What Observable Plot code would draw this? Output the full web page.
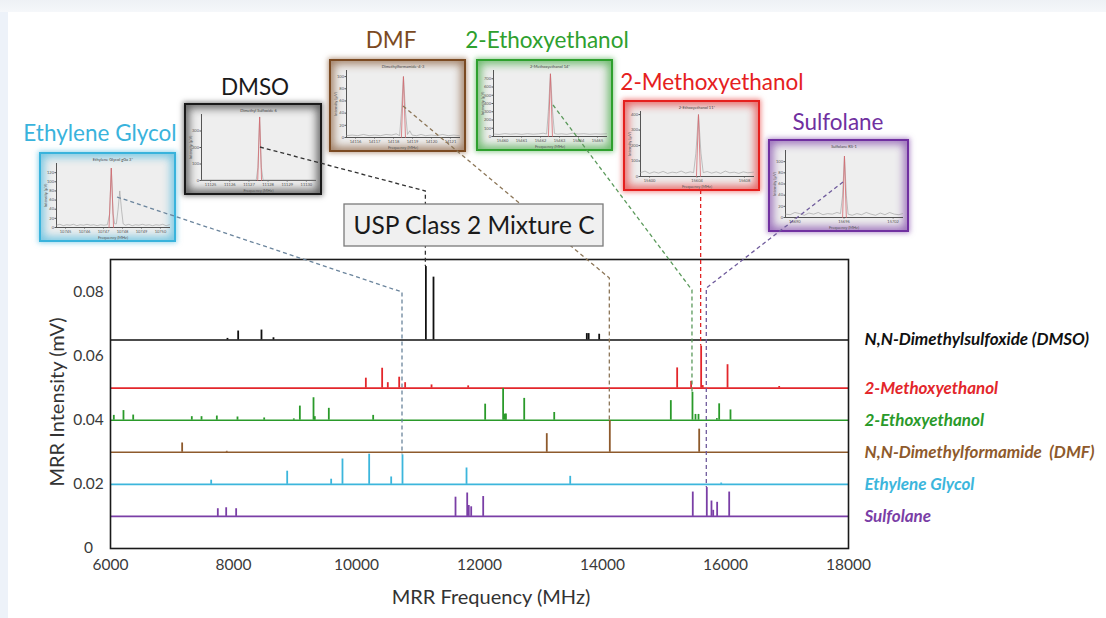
<!DOCTYPE html>
<html><head><meta charset="utf-8">
<script src="https://cdn.jsdelivr.net/npm/d3@7"></script>
<script src="https://cdn.jsdelivr.net/npm/@observablehq/plot@0.6"></script>
<style>
body{margin:0;background:#fff;font-family:Lato,"Open Sans",sans-serif;}
#wrap{position:relative;width:1106px;height:618px;overflow:hidden;background:#fff;}
#topband{position:absolute;left:0;top:0;width:1106px;height:12px;background:linear-gradient(#eef1f5,#f5f7fa);}
#leftband{position:absolute;left:0;top:12px;width:8px;height:606px;background:#edf2f9;}
#main{position:absolute;left:0;top:0;}
.inset{position:absolute;box-sizing:border-box;background:#eeeeee;}
.inset svg{display:block;}
#overlay{position:absolute;left:0;top:0;pointer-events:none;}
</style></head><body><div id="wrap"><div id="topband"></div><div id="leftband"></div><div id="main"></div></div>
<script>
// ---------- main spectrum data ----------
const seriesNames = ["N,N-Dimethylsulfoxide (DMSO)", "2-Methoxyethanol", "2-Ethoxyethanol", "N,N-Dimethylformamide  (DMF)", "Ethylene Glycol", "Sulfolane"];
const seriesBaselines = [0.065, 0.05, 0.04, 0.03, 0.02, 0.01];
const seriesColors = ["#111111", "#e3262b", "#2a9a2a", "#8e5a2c", "#3cb6dc", "#7a3ea6"];

const dmsoFreq = [7902, 8076, 8455, 8650, 11128, 11252, 13745, 13775, 13946];
const dmsoAmp  = [0.0005, 0.0028, 0.0031, 0.0007, 0.0229, 0.0196, 0.002, 0.002, 0.0018];

const methoxyFreq = [10152, 10417, 10509, 10694, 10791, 11220, 11816, 15214, 15441, 15604, 15630, 16033, 16873];
const methoxyAmp  = [0.0031, 0.0062, 0.0017, 0.0034, 0.0017, 0.001, 0.0007, 0.0063, 0.0021, 0.0131, 0.0008, 0.0073, 0.0005];

const ethoxyFreq = [6054, 6211, 6369, 7322, 7480, 7729, 8065, 8499, 8981, 9079, 9301, 9322, 9550, 10271, 12092, 12384, 12410, 12430, 12727, 13215, 15111, 15463, 15512, 15561, 15860, 15897, 16081];
const ethoxyAmp  = [0.0015, 0.003, 0.0016, 0.0011, 0.0011, 0.0013, 0.001, 0.0007, 0.0004, 0.0044, 0.007, 0.0011, 0.0037, 0.0015, 0.005, 0.0099, 0.0019, 0.0019, 0.0068, 0.0024, 0.0061, 0.0087, 0.0018, 0.0018, 0.0005, 0.0051, 0.0032];

const dmfFreq = [7165, 7890, 13094, 14119, 15572];
const dmfAmp  = [0.0029, 0.0003, 0.0058, 0.0099, 0.0072];

const egFreq = [7637, 8873, 9588, 9772, 10206, 10564, 10748, 11789, 13475, 15930];
const egAmp  = [0.0013, 0.0041, 0.0016, 0.0079, 0.0094, 0.0023, 0.0092, 0.0051, 0.0025, 0.0004];

const sulfFreq = [7745, 7881, 8043, 11610, 11800, 11826, 11865, 12060, 15468, 15696, 15772, 15800, 15864, 16060];
const sulfAmp  = [0.0024, 0.0027, 0.0024, 0.006, 0.0073, 0.0034, 0.003, 0.0062, 0.0076, 0.009, 0.0048, 0.0019, 0.0044, 0.0076];

const xTicks = [6000, 8000, 10000, 12000, 14000, 16000, 18000];
const yTicks = [0, 0.02, 0.04, 0.06, 0.08];

// ---------- inset (zoomed single-line) data ----------
const insetNames  = ["Ethylene Glycol", "DMSO", "DMF", "2-Ethoxyethanol", "2-Methoxyethanol", "Sulfolane"];
const insetTitles = ["Ethylene Glycol gGa 3*", "Dimethyl Sulfoxide 6", "Dimethylformamide-4-3", "2-Methoxyethanol 14*", "2-Ethoxyethanol 11*", "Sulfolane RS-1"];
const insetColors = ["#39b3dc", "#1a1a1a", "#7b4a22", "#2ea02e", "#e5201e", "#7030a0"];
const insetSeries = [4, 0, 3, 2, 1, 5];           // which main series each inset zooms on
const insetPeakFreq = [10748, 11128, 14119, 15463, 15604, 15696];

const egTrace = [[0,5],[3,7],[6,4],[9,6],[12,5],[15,7],[18,4],[21,6],[24,5],[27,7],[30,5],[33,6],[36,4],[39,6],[42,5],[45,6],[47,30],[48.5,130],[50,30],[51.5,8],[53,8],[54.5,40],[56,80],[57.5,40],[59,8],[61,5],[64,7],[67,4],[70,6],[73,5],[76,7],[79,5],[82,6],[85,4],[88,6],[91,5],[94,7],[97,4],[100,6]];
const egFit = [[46.5,0],[48.5,130],[50.5,0]];
const dmsoTrace = [[0,3],[20,3],[40,3],[48,3],[49.5,80],[51,385],[52.5,80],[54,3],[70,3],[100,3]];
const dmsoFit = [[49.3,0],[51,385],[52.7,0]];
const dmfTrace = [[0,3],[5,4],[10,3],[15,5],[20,3],[25,4],[30,3],[35,5],[40,4],[44,6],[47,3],[48.5,40],[50.4,100],[52.3,40],[54,5],[56,11],[58,4],[62,3],[66,5],[70,3],[75,4],[80,3],[85,5],[90,3],[95,4],[100,3]];
const dmfFit = [[48.6,0],[50.4,100],[52.2,0]];
const ethoxyTrace = [[0,30],[5,25],[10,35],[15,28],[20,33],[25,26],[30,34],[35,28],[40,32],[44,40],[47,30],[48.5,300],[50.4,760],[52.3,300],[54,35],[57,28],[60,33],[65,26],[70,40],[75,30],[80,34],[85,27],[90,32],[95,29],[100,33]];
const ethoxyFit = [[48.6,0],[50.4,760],[52.2,0]];
const methoxyTrace = [[0,25],[4,35],[8,20],[12,30],[16,22],[20,33],[24,20],[28,28],[32,24],[36,35],[40,22],[44,30],[47,25],[49,150],[51.3,400],[53.5,150],[55.5,25],[59,32],[63,22],[67,30],[71,20],[75,35],[79,24],[83,28],[87,20],[91,30],[95,24],[100,28]];
const methoxyFit = [[49.5,0],[51.3,400],[53.1,0]];
const sulfTrace = [[0,6],[4,5],[8,9],[12,7],[16,4],[20,8],[24,6],[28,9],[32,5],[36,7],[40,6],[44,9],[47,7],[48.8,40],[50.4,110],[52,40],[53.5,6],[57,4],[61,7],[65,5],[69,9],[73,6],[77,4],[81,8],[85,5],[89,9],[93,6],[97,5],[100,7]];
const sulfFit = [[48.8,0],[50.4,110],[52,0]];

// ---------- build rows ----------
const freqs = [dmsoFreq, methoxyFreq, ethoxyFreq, dmfFreq, egFreq, sulfFreq];
const amps  = [dmsoAmp, methoxyAmp, ethoxyAmp, dmfAmp, egAmp, sulfAmp];
const seriesRows = seriesNames.map((name, i) => ({name, base: seriesBaselines[i], color: seriesColors[i]}));
const peakRows = [];
freqs.forEach((fs, i) => fs.forEach((f, j) => peakRows.push({freq: f, base: seriesBaselines[i], top: seriesBaselines[i] + amps[i][j], color: seriesColors[i]})));

const main = Plot.plot({
  width: 1106, height: 618,
  marginLeft: 110, marginRight: 258, marginTop: 259, marginBottom: 70,
  style: {fontFamily: "Lato, sans-serif", fontSize: "15.5px", color: "#3a3a3a", background: "transparent", overflow: "visible"},
  x: {domain: [6000, 18000], label: null},
  y: {domain: [0, 0.0901], label: null},
  color: {type: "identity"},
  marks: [
    Plot.axisX({ticks: xTicks, tickFormat: d => String(d), tickSize: 0, tickPadding: 10, label: null}),
    Plot.axisY({ticks: yTicks, tickFormat: d => d === 0 ? "0" : d.toFixed(2), tickSize: 0, tickPadding: 6, textAnchor: "middle", dx: -16, label: null}),
    Plot.ruleY(seriesRows, {y: "base", stroke: "color", strokeWidth: 1.6}),
    Plot.ruleX(peakRows, {x: "freq", y1: "base", y2: "top", stroke: "color", strokeWidth: 1.8}),
    Plot.frame({stroke: "#1a1a1a", strokeWidth: 1.6}),
    Plot.text(seriesRows, {y: "base", frameAnchor: "right", dx: 16, textAnchor: "start", text: "name", fill: "color", fontSize: 17, fontWeight: "bold", fontStyle: "italic"})
  ]
});
document.getElementById("main").appendChild(main);
const xs = main.scale("x"), ys = main.scale("y");

// axis titles
const msvg = d3.select(main);
msvg.append("text").attr("x", 491).attr("y", 604).attr("text-anchor", "middle")
  .attr("font-size", 20).attr("fill", "#333").text("MRR Frequency (MHz)");
msvg.append("text").attr("transform", "translate(64,402) rotate(-90)").attr("text-anchor", "middle")
  .attr("font-size", 20).attr("fill", "#333").text("MRR Intensity (mV)");

// ---------- insets ----------
const insetBoxes = [[39,152,137,90],[184,103,138,92],[329,59,137,93],[476,59,137,92],[623,100,137,91],[768,139,141,93]];
const insetTraces = [egTrace, dmsoTrace, dmfTrace, ethoxyTrace, methoxyTrace, sulfTrace];
const insetFits = [egFit, dmsoFit, dmfFit, ethoxyFit, methoxyFit, sulfFit];
const insetYDomains = [[0,140],[0,400],[0,110],[0,800],[0,420],[0,120]];
const insetYTicks = [[0,20,40,60,80,100,120],[0,100,200,300],[0,20,40,60,80,100],[0,100,200,300,400,500,600,700],[0,100,200,300,400],[0,20,40,60,80,100]];
const insetXLabels = [
  ["10745","10746","10747","10748","10749","10750"],
  ["11125","11126","11127","11128","11129","11130"],
  ["14116","14117","14118","14119","14120","14121"],
  ["15460","15461","15462","15463","15464","15465"],
  ["15600","15604","15608"],
  ["15690","15696","15702"]
];
const wrap = document.getElementById("wrap");
insetBoxes.forEach(([L, T, W, H], k) => {
  const c = insetColors[k];
  const div = document.createElement("div");
  div.className = "inset";
  Object.assign(div.style, {left: L + "px", top: T + "px", width: W + "px", height: H + "px",
    border: "2px solid " + c, boxShadow: `0 0 5px 1px ${c}88, inset 0 0 8px 3px ${c}aa`});
  const xl = insetXLabels[k];
  const xt = xl.map((_, i) => 8 + i * 84 / (xl.length - 1));
  const mini = Plot.plot({
    width: W - 4, height: H - 4,
    marginLeft: 15, marginRight: 5, marginTop: 9, marginBottom: 13,
    style: {fontSize: "4px", background: "transparent", color: "#555", fontFamily: "Lato, sans-serif"},
    x: {domain: [0, 100], ticks: xt, tickFormat: d => xl[xt.indexOf(d)], tickSize: 1.5, tickPadding: 1, label: "Frequency (MHz)", labelAnchor: "center", labelOffset: 11, labelArrow: "none", line: true},
    y: {domain: insetYDomains[k], ticks: insetYTicks[k], tickSize: 1.5, tickPadding: 1, label: "Intensity (µV)", labelAnchor: "center", labelOffset: 12, labelArrow: "none", line: true},
    marks: [
      Plot.line(insetTraces[k], {stroke: "#9a9a9a", strokeWidth: 0.6}),
      Plot.line(insetFits[k], {stroke: "#d46a70", strokeWidth: 0.8}),
      Plot.text([insetTitles[k]], {frameAnchor: "top", dy: -5, fontSize: 4, fill: "#444"})
    ]
  });
  div.appendChild(mini);
  wrap.appendChild(div);
});

// ---------- overlay: connectors, labels, mixture box ----------
const ov = d3.select(wrap).append("svg").attr("id", "overlay").attr("width", 1106).attr("height", 618)
  .style("font-family", "Lato, sans-serif");
const connStart = [[117,197],[260,147],[403,106],[553,105],[699,190],[843,182]];
const connTurnY = [292, 191, 278, 290, null, 288];
const connColors = ["#6a849c", "#333333", "#8c7658", "#5b9a5b", "#e02424", "#6f5b9c"];
insetPeakFreq.forEach((f, k) => {
  const si = insetSeries[k];
  const j = freqs[si].indexOf(f);
  const px = xs.apply(f), pyTop = ys.apply(seriesBaselines[si] + amps[si][j]);
  const [sx, sy] = connStart[k];
  const pts = connTurnY[k] == null ? [[px, sy], [px, pyTop]] : [[sx, sy], [px, connTurnY[k]], [px, pyTop]];
  ov.append("path").attr("d", d3.line()(pts)).attr("fill", "none").attr("stroke", connColors[k])
    .attr("stroke-width", 1.3).attr("stroke-dasharray", "4,3");
});
const labelPos = [[100,141],[255,95],[391,48],[547,48],[712,90],[838,130]];
insetNames.forEach((n, k) => {
  ov.append("text").attr("x", labelPos[k][0]).attr("y", labelPos[k][1]).attr("text-anchor", "middle")
    .attr("font-size", 22.5).attr("fill", insetColors[k]).text(n);
});
ov.append("rect").attr("x", 344).attr("y", 204).attr("width", 259).attr("height", 42)
  .attr("fill", "#f0f0f0").attr("stroke", "#7a7a7a").attr("stroke-width", 1.3);
ov.append("text").attr("x", 474).attr("y", 234).attr("text-anchor", "middle")
  .attr("font-size", 24.5).attr("fill", "#1a1a1a").text("USP Class 2 Mixture C");
</script>
</body></html>
